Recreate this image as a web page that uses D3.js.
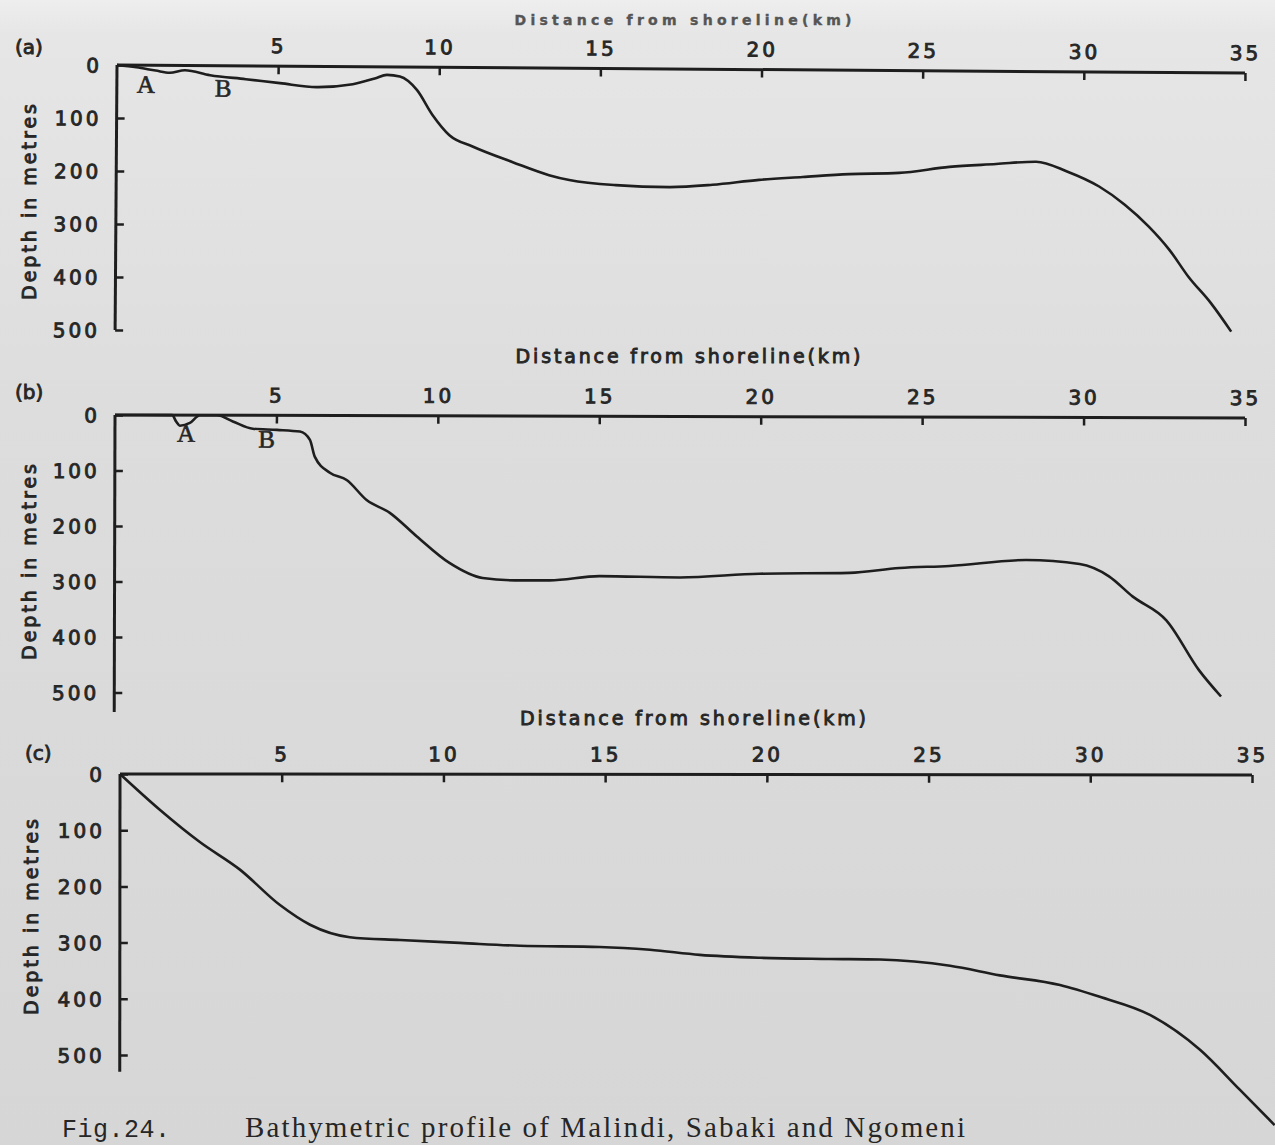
<!DOCTYPE html>
<html>
<head>
<meta charset="utf-8">
<script src="https://cdn.jsdelivr.net/npm/d3@7"></script>
<style>
  html, body { margin: 0; padding: 0; background: #dcdcdc; }
  svg { display: block; }
</style>
</head>
<body>
<script>
// ---------------- DATA ----------------
const distanceTicks = [5, 10, 15, 20, 25, 30, 35];
const depthTicks = [0, 100, 200, 300, 400, 500];
const panelLetters = ["(a)", "(b)", "(c)"];
const xTitle = "Distance from shoreline(km)";
const yTitle = "Depth in metres";
const captionFig = "Fig.24.";
const captionText = "Bathymetric profile of Malindi, Sabaki and Ngomeni";

// (a) Malindi profile: distance (km), depth (m)
const malindiDist  = [0, 0.6, 1.2, 1.64, 2.11, 2.89, 4.0, 5.06, 6.2, 7.32, 8.0, 8.38, 8.78, 9.31, 9.8, 10.33, 11.05, 12.3, 13.43, 14.06, 15.5, 17.16, 18.5, 19.95, 21.3, 22.74, 24.29, 25.85, 27.3, 28.54, 29.5, 30.5, 31.3, 32.05, 32.7, 33.29, 34.0, 34.63];
const malindiDepth = [0, 4, 10, 14, 9, 18, 25, 32, 39, 33, 22, 15, 18, 43, 90, 128, 149, 178, 202, 211, 220, 223, 218, 208, 202, 196, 193, 181, 175, 170, 188, 216, 250, 291, 335, 385, 435, 488];
const malindiMarks = ["A", "B"];
const malindiMarkDist = [0.9, 3.3];
const malindiMarkDepth = [52, 58];

// (b) Sabaki profile
const sabakiDist  = [0, 1.77, 1.9, 2.01, 2.32, 2.63, 3.16, 3.65, 4.27, 5.02, 5.73, 6.04, 6.19, 6.66, 7.18, 7.8, 8.52, 9.35, 10.37, 11.4, 12.4, 13.47, 15.02, 17.5, 19.97, 22.76, 24.31, 25.86, 28.24, 29.89, 30.8, 31.53, 32.58, 33.6, 34.28];
const sabakiDepth = [0, 0, 12, 19, 14, 0, 0, 11, 24, 26, 29, 44, 74, 103, 116, 152, 175, 217, 265, 292, 296, 296, 288, 290, 283, 281, 272, 268, 257, 264, 286, 322, 365, 455, 502];
const sabakiMarks = ["A", "B"];
const sabakiMarkDist = [2.2, 4.7];
const sabakiMarkDepth = [48, 58];

// (c) Ngomeni profile
const ngomeniDist  = [0, 1.24, 2.47, 3.71, 4.95, 5.88, 7.11, 8.66, 10.51, 12.37, 14.84, 16.39, 17.93, 19.79, 21.95, 23.5, 25.67, 27.21, 29.07, 30.3, 31.85, 33.4, 34.63, 35.71];
const ngomeniDepth = [0, 64, 121, 170, 233, 268, 290, 295, 300, 305, 307, 312, 321, 326, 328, 329, 340, 357, 374, 395, 427, 489, 560, 623];

// ---------------- LAYOUT ----------------
const W = 1275, H = 1145;
const panels = [
  { letter: panelLetters[0], dist: malindiDist, depth: malindiDepth, marks: malindiMarks, markDist: malindiMarkDist, markDepth: malindiMarkDepth,
    ox: 117, oy: 65, w: 1128, h: 265, yAxisMax: 500, letterX: 15, letterY: 54, tilt: 0.41,
    title: { x: 683, y: 25, size: 14, len: 337, color: "#555555", sw: 0.4, weight: "bold" },
    yTitleX: 36, yTitleY: 202 },
  { letter: panelLetters[1], dist: sabakiDist, depth: sabakiDepth, marks: sabakiMarks, markDist: sabakiMarkDist, markDepth: sabakiMarkDepth,
    ox: 115, oy: 415, w: 1130, h: 277.5, yAxisMax: 535, letterX: 15, letterY: 399, tilt: 0.15,
    title: { x: 688, y: 363, size: 19, len: 345, color: "#262626", sw: 0.9, weight: "normal" },
    yTitleX: 36, yTitleY: 562 },
  { letter: panelLetters[2], dist: ngomeniDist, depth: ngomeniDepth, marks: [], markDist: [], markDepth: [],
    ox: 120, oy: 774, w: 1132, h: 281, yAxisMax: 530, letterX: 25, letterY: 760, tilt: 0.05,
    title: { x: 693, y: 725, size: 19, len: 346, color: "#262626", sw: 0.9, weight: "normal" },
    yTitleX: 38, yTitleY: 917 }
];

const svg = d3.select("body").append("svg").attr("width", W).attr("height", H);
const defs = svg.append("defs");
const grad = defs.append("linearGradient").attr("id", "bg").attr("x1", 0).attr("y1", 0).attr("x2", 0).attr("y2", 1);
grad.append("stop").attr("offset", "0").attr("stop-color", "#eeeeee");
grad.append("stop").attr("offset", "0.03").attr("stop-color", "#e6e6e6");
grad.append("stop").attr("offset", "0.35").attr("stop-color", "#dddddd");
grad.append("stop").attr("offset", "1").attr("stop-color", "#d6d6d6");
svg.append("rect").attr("width", W).attr("height", H).attr("fill", "url(#bg)");

const ink = "#1e1e1e";
const txt = "#262626";
const numFont = "'DejaVu Sans', sans-serif";

panels.forEach(p => {
  const x = d3.scaleLinear().domain([0, 35]).range([0, p.w]);
  const y = d3.scaleLinear().domain([0, 500]).range([0, p.h]);
  const g = svg.append("g").attr("transform", `translate(${p.ox},${p.oy}) rotate(${p.tilt})`);

  // x axis (top, ticks pointing down)
  const xAxis = d3.axisBottom(x).tickValues(distanceTicks).tickSize(8).tickFormat("");
  const gx = g.append("g").call(xAxis);
  gx.select(".domain").attr("d", `M0,0H${p.w}`).attr("stroke", ink).attr("stroke-width", 3);
  gx.selectAll(".tick line").attr("stroke", ink).attr("stroke-width", 2.5);
  gx.selectAll(".tick").append("text")
    .attr("y", -13).attr("text-anchor", "middle")
    .attr("fill", txt).attr("stroke", txt).attr("stroke-width", 0.9)
    .style("font-family", numFont).style("font-size", "20px").style("letter-spacing", "3px")
    .text(d => d);

  // y axis (left, ticks pointing right)
  const yAxis = d3.axisRight(y).tickValues(depthTicks).tickSize(8).tickFormat("");
  const gy = g.append("g").call(yAxis);
  gy.select(".domain").attr("d", `M0,0V${y(p.yAxisMax)}`).attr("stroke", ink).attr("stroke-width", 3);
  gy.selectAll(".tick line").attr("stroke", ink).attr("stroke-width", 2.5);
  gy.selectAll(".tick").append("text")
    .attr("x", -15).attr("dy", "0.36em").attr("text-anchor", "end")
    .attr("fill", txt).attr("stroke", txt).attr("stroke-width", 0.9)
    .style("font-family", numFont).style("font-size", "20px").style("letter-spacing", "3px")
    .text(d => d);

  // profile line
  const pts = p.dist.map((d, i) => [d, p.depth[i]]);
  const line = d3.line().x(d => x(d[0])).y(d => y(d[1])).curve(d3.curveMonotoneX);
  g.append("path").datum(pts).attr("d", line)
    .attr("fill", "none").attr("stroke", ink).attr("stroke-width", 2.6).attr("stroke-linejoin", "round");

  // A / B marks
  p.marks.forEach((m, i) => {
    g.append("text").attr("x", x(p.markDist[i])).attr("y", y(p.markDepth[i]))
      .attr("text-anchor", "middle").attr("fill", txt).attr("stroke", txt).attr("stroke-width", 0.6)
      .style("font-family", "'Liberation Serif', serif").style("font-size", "25px")
      .text(m);
  });
});

// panel letters, titles
panels.forEach(p => {
  svg.append("text").attr("x", p.letterX).attr("y", p.letterY)
    .attr("fill", txt).attr("stroke", txt).attr("stroke-width", 0.9)
    .style("font-family", numFont).style("font-size", "20px")
    .text(p.letter);
  svg.append("text").attr("x", p.title.x).attr("y", p.title.y).attr("text-anchor", "middle")
    .attr("fill", p.title.color).attr("stroke", p.title.color).attr("stroke-width", p.title.sw)
    .attr("textLength", p.title.len).attr("lengthAdjust", "spacing")
    .style("font-family", numFont).style("font-size", p.title.size + "px").style("font-weight", p.title.weight)
    .text(xTitle);
  svg.append("text").attr("transform", `translate(${p.yTitleX},${p.yTitleY}) rotate(-90)`)
    .attr("text-anchor", "middle")
    .attr("fill", txt).attr("stroke", txt).attr("stroke-width", 0.9)
    .attr("textLength", 196).attr("lengthAdjust", "spacing")
    .style("font-family", numFont).style("font-size", "19px")
    .text(yTitle);
});

// caption
svg.append("text").attr("x", 62).attr("y", 1137).attr("fill", txt)
  .attr("textLength", 108).attr("lengthAdjust", "spacing")
  .style("font-family", "'Liberation Mono', monospace").style("font-size", "25px")
  .text(captionFig);
svg.append("text").attr("x", 245).attr("y", 1137).attr("fill", txt)
  .attr("textLength", 720).attr("lengthAdjust", "spacing")
  .style("font-family", "'Liberation Serif', serif").style("font-size", "29px")
  .text(captionText);
</script>
</body>
</html>
